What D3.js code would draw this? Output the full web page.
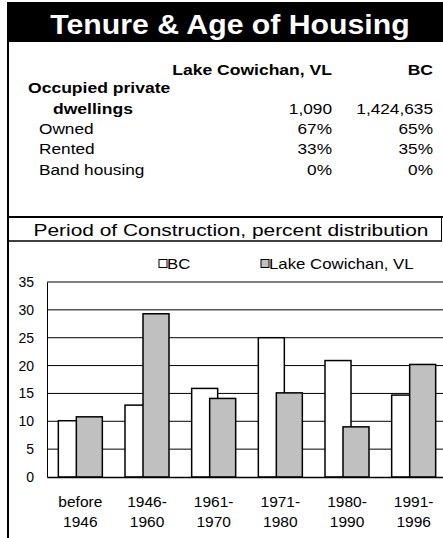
<!DOCTYPE html>
<html>
<head>
<meta charset="utf-8">
<script src="https://cdn.jsdelivr.net/npm/d3@7"></script>
<style>
  body { margin: 0; background: #fff; }
  svg { display: block; font-family: "Liberation Sans", Arial, sans-serif; }
</style>
</head>
<body>
<div id="chart"></div>
<script>
// Table values.
const tableHeaders = ["Lake Cowichan, VL", "BC"];
const dwellings = ["1,090", "1,424,635"];
const rowLabels = ["Owned", "Rented", "Band housing"];
const lakeShares = ["67%", "33%", "0%"];
const bcShares = ["65%", "35%", "0%"];

// Chart values.
const periods = [["before", "1946"], ["1946-", "1960"], ["1961-", "1970"],
                 ["1971-", "1980"], ["1980-", "1990"], ["1991-", "1996"]];
const seriesNames = ["BC", "Lake Cowichan, VL"];
const bcValues = [10.1, 12.9, 15.9, 25.0, 20.9, 14.7];
const lakeValues = [10.8, 29.3, 14.1, 15.1, 9.0, 20.2];
const yTicks = [0, 5, 10, 15, 20, 25, 30, 35];

const W = 443, H = 538;
const svg = d3.select("#chart").append("svg")
    .attr("width", W)
    .attr("height", H);

// Text helper: the source art has its lettering a bit wide, so stretch horizontally.
function label(parent, x, y, str, size, opts = {}) {
  const sx = opts.sx || 1;
  return parent.append("text")
      .attr("transform", `translate(${x},${y}) scale(${sx},1)`)
      .attr("font-size", size)
      .attr("font-weight", opts.bold ? "bold" : null)
      .attr("text-anchor", opts.anchor || "start")
      .attr("fill", opts.fill || "#000")
      .text(str);
}

// Title banner.
svg.append("rect")
    .attr("x", 7).attr("y", 2)
    .attr("width", W - 7).attr("height", 40)
    .attr("fill", "#000");
label(svg, 230, 34, "Tenure & Age of Housing", 27,
      {bold: true, anchor: "middle", fill: "#fff", sx: 1.12});

// Frame lines.
svg.append("line").attr("x1", 8).attr("x2", 8).attr("y1", 2).attr("y2", H)
    .attr("stroke", "#000").attr("stroke-width", 2);
svg.append("line").attr("x1", 8).attr("x2", W).attr("y1", 217).attr("y2", 217)
    .attr("stroke", "#000").attr("stroke-width", 2);
svg.append("line").attr("x1", 8).attr("x2", 442).attr("y1", 241).attr("y2", 241)
    .attr("stroke", "#000").attr("stroke-width", 1.5);
svg.append("line").attr("x1", 441.5).attr("x2", 441.5).attr("y1", 217).attr("y2", 241)
    .attr("stroke", "#000").attr("stroke-width", 1);

// Table.
const colX = [332, 433];
const ts = 1.15;
const table = svg.append("g");
tableHeaders.forEach((h, i) => {
  label(table, colX[i], 75, h, 15, {bold: true, anchor: "end", sx: 1.17});
});
label(table, 28, 93, "Occupied private", 15, {bold: true, sx: 1.17});
label(table, 53, 114, "dwellings", 15, {bold: true, sx: 1.17});
dwellings.forEach((v, i) => {
  label(table, colX[i], 114, v, 15, {anchor: "end", sx: ts});
});
const rowY = [134, 154, 175];
rowLabels.forEach((lab, i) => {
  label(table, 39, rowY[i], lab, 15, {sx: ts});
  label(table, colX[0], rowY[i], lakeShares[i], 15, {anchor: "end", sx: ts});
  label(table, colX[1], rowY[i], bcShares[i], 15, {anchor: "end", sx: ts});
});

// Chart subtitle.
label(svg, 231, 236, "Period of Construction, percent distribution", 17,
      {anchor: "middle", sx: 1.23});

// Legend.
const fills = ["#fff", "#c0c0c0"];
const legendX = [159, 261];
seriesNames.forEach((name, i) => {
  svg.append("rect")
      .attr("x", legendX[i]).attr("y", 259.5)
      .attr("width", 8).attr("height", 8)
      .attr("fill", fills[i]).attr("stroke", "#000").attr("stroke-width", 1);
  label(svg, legendX[i] + 8, 268.5, name, 14, {sx: 1.2});
});

// Plot.
const margin = {top: 282, left: 47};
const plotW = 400, plotH = 195;

const x = d3.scaleBand()
    .domain(d3.range(periods.length))
    .range([margin.left, margin.left + plotW]);
const y = d3.scaleLinear()
    .domain([0, 35])
    .range([margin.top + plotH, margin.top]);

// Gridlines.
svg.append("g")
    .selectAll("line")
    .data(yTicks.filter(t => t > 0))
    .join("line")
    .attr("x1", margin.left).attr("x2", margin.left + plotW)
    .attr("y1", d => y(d)).attr("y2", d => y(d))
    .attr("stroke", "#000").attr("stroke-width", 1);

// Y axis.
const yAxis = svg.append("g")
    .attr("transform", `translate(${margin.left},0)`)
    .call(d3.axisLeft(y).tickValues(yTicks).tickSize(0).tickPadding(13));
yAxis.select(".domain").attr("stroke", "#000").attr("stroke-width", 1);
yAxis.selectAll("text")
    .attr("font-size", 14)
    .attr("font-family", "Liberation Sans, Arial, sans-serif")
    .attr("fill", "#000");

// Bars.
const barW = x.bandwidth() * 0.39;
const overlap = x.bandwidth() * 0.12;
const groupW = 2 * barW - overlap;
const series = [bcValues, lakeValues];
series.forEach((vals, s) => {
  svg.append("g")
      .selectAll("rect")
      .data(vals)
      .join("rect")
      .attr("x", (d, i) => x(i) + (x.bandwidth() - groupW) / 2 + s * (barW - overlap))
      .attr("y", d => y(d))
      .attr("width", barW)
      .attr("height", d => y(0) - y(d))
      .attr("fill", fills[s])
      .attr("stroke", "#000")
      .attr("stroke-width", 1.5);
});

// X axis.
const xAxis = svg.append("g")
    .attr("transform", `translate(0,${y(0)})`)
    .call(d3.axisBottom(x).tickSize(0).tickFormat(() => ""));
xAxis.select(".domain").attr("stroke", "#000").attr("stroke-width", 1.5);

const xLabels = svg.append("g");
periods.forEach((lines, i) => {
  lines.forEach((t, j) => {
    label(xLabels, x(i) + x.bandwidth() / 2, 507 + j * 20, t, 15.5, {anchor: "middle"});
  });
});
</script>
</body>
</html>
